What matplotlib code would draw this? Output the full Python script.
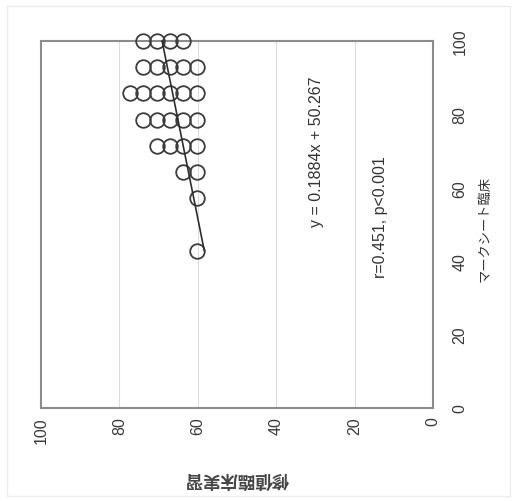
import matplotlib
matplotlib.use("Agg")
import matplotlib.pyplot as plt
from matplotlib.patches import Rectangle
import numpy as np

# ---- data ----
# mark-sheet clinical score (vertical axis in the rotated chart)
mark_sheet = [100, 100, 100, 100,
              92.9, 92.9, 92.9, 92.9, 92.9,
              85.7, 85.7, 85.7, 85.7, 85.7, 85.7,
              78.6, 78.6, 78.6, 78.6, 78.6,
              71.4, 71.4, 71.4, 71.4,
              64.3, 64.3,
              57.1,
              42.9]
# clinical practice score (horizontal axis in the rotated chart)
practice = [73.9, 70.5, 67.1, 63.7,
            73.9, 70.5, 67.1, 63.7, 60.3,
            77.3, 73.9, 70.5, 67.1, 63.7, 60.3,
            73.9, 70.5, 67.1, 63.7, 60.3,
            70.5, 67.1, 63.7, 60.3,
            63.7, 60.3,
            60.3,
            60.3]
slope = 0.1884
intercept = 50.267
ticks = [0, 20, 40, 60, 80, 100]
tick_labels = ["0", "20", "40", "60", "80", "100"]
grid_vals = [20, 40, 60, 80]
x_title = "修値臨床実習"
y_title = "マークシート臨床"
eq_text = "y = 0.1884x + 50.267"
r_text = "r=0.451, p<0.001"

plt.rcParams['font.family'] = ['Liberation Sans', 'Noto Sans CJK JP', 'DejaVu Sans']

fig = plt.figure(figsize=(5.17, 5.02), dpi=100)
W, H = 517, 502
ax = fig.add_axes([41 / W, 1 - 409 / H, (433 - 41) / W, (409 - 42) / H])

# outer faint frame
fig.patches.append(Rectangle((7 / W, 1 - 497 / H), (510 - 7) / W, (497 - 7) / H,
                             transform=fig.transFigure, fill=False,
                             edgecolor='#ececec', lw=1.0))

for g in grid_vals:
    ax.axvline(g, color='#dcdcdc', lw=0.8, zorder=0)

ax.plot(practice, mark_sheet, linestyle='none', marker='o', ms=10.5,
        mfc='none', mec='#3c3c3c', mew=1.3, zorder=3, clip_on=False)

xs = np.array([min(mark_sheet), max(mark_sheet)])
ax.plot(slope * xs + intercept, xs, color='#2e2e2e', lw=1.2, zorder=4,
        clip_on=False)

ax.set_xlim(100, 0)
ax.set_ylim(0, 100)
ax.set_xticks(ticks)
ax.set_xticklabels(tick_labels)
ax.set_yticks(ticks)
ax.set_yticklabels(tick_labels)
ax.yaxis.tick_right()
ax.tick_params(axis='x', length=0, pad=6, labelsize=11.5, colors='#3a3a3a',
               labelrotation=90)
ax.tick_params(axis='y', length=0, pad=14, labelsize=11.5, colors='#3a3a3a',
               labelrotation=90)
for lab in ax.get_yticklabels():
    lab.set_va('center')

for s in ax.spines.values():
    s.set_color('#8c8c8c')
    s.set_linewidth(1.5)

ax.text(1.133, 0.49, y_title, transform=ax.transAxes, rotation=90,
        ha='center', va='center', fontsize=9.5, color='#333333',
        family=['Noto Sans CJK JP', 'DejaVu Sans'])
ax.text(0.5, -0.19, x_title, transform=ax.transAxes, rotation=180,
        ha='center', va='center', fontsize=12.5, fontweight='bold',
        color='#444444', family=['Noto Sans CJK JP', 'DejaVu Sans'])

ax.text(0.703, 0.70, eq_text, transform=ax.transAxes, rotation=90,
        ha='center', va='center', fontsize=11.5, color='#333333')
ax.text(0.865, 0.523, r_text, transform=ax.transAxes, rotation=90,
        ha='center', va='center', fontsize=11.5, color='#333333')

fig.savefig("out.png", dpi=100)
